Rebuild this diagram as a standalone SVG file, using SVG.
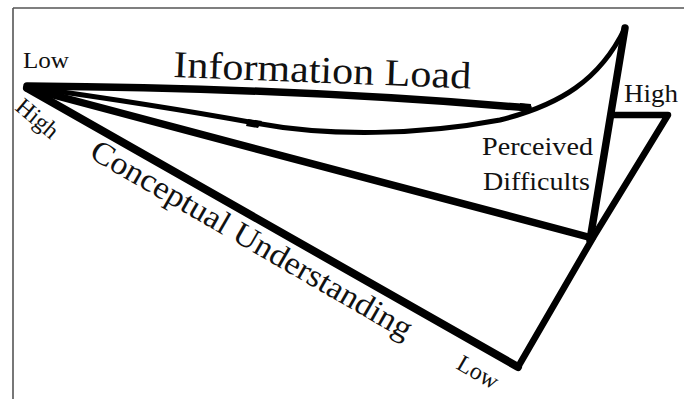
<svg xmlns="http://www.w3.org/2000/svg" width="684" height="399" viewBox="0 0 684 399">
  <style>
    .frame { fill: none; stroke: #555; stroke-width: 1.6; }
    .ink { fill: none; stroke: #000; stroke-linecap: round; stroke-linejoin: round; }
    .label { font-family: "Liberation Serif", "Times New Roman", serif; fill: #111; }
  </style>
  <rect width="684" height="399" fill="#fff"/>

  <!-- page frame (top and left edges only) -->
  <g id="frame">
    <line class="frame" x1="13" y1="8" x2="684" y2="8"/>
    <line class="frame" x1="13" y1="8" x2="13" y2="399" stroke-width="2"/>
  </g>

  <!-- hand-drawn strokes -->
  <g id="connectors">
    <!-- information load edge -->
    <path class="ink" d="M27,86 Q300,88 528,108" stroke-width="7.5"/>
    <path d="M520,103 L531,104 L530,112 L519,110 Z" fill="#000"/>
    <!-- curved edge rising to the peak -->
    <path class="ink" d="M27,87 Q150,104 255,123 C330,137 420,135 500,120 C560,105 600,80 625,28" stroke-width="5"/>
    <path d="M248,119 L262,121 L258,128 L246,126 Z" fill="#000"/>
    <!-- middle edge -->
    <path class="ink" d="M27,88 L592,238" stroke-width="7.5"/>
    <!-- conceptual understanding edge -->
    <path class="ink" d="M27,88 L518,367" stroke-width="8"/>
    <!-- perceived difficulty axis -->
    <path class="ink" d="M625,28 L590,240" stroke-width="7.5"/>
    <!-- outer right boundary -->
    <path class="ink" d="M612,115 L668,115 L594,236 L518,367" stroke-width="6.5"/>
  </g>

  <g id="label-low-top">
    <text class="label" x="23" y="68" font-size="24" textLength="46" lengthAdjust="spacingAndGlyphs">Low</text>
  </g>
  <g id="label-high-left">
    <text class="label" font-size="24" transform="translate(14,109) rotate(40)">High</text>
  </g>
  <g id="label-information-load">
    <text class="label" font-size="38" textLength="298" lengthAdjust="spacingAndGlyphs" transform="translate(173,77) rotate(2.2)">Information Load</text>
  </g>
  <g id="label-conceptual-understanding">
    <text class="label" font-size="32" textLength="366" lengthAdjust="spacingAndGlyphs" transform="translate(88,157) rotate(30)">Conceptual Understanding</text>
  </g>
  <g id="label-low-bottom">
    <text class="label" font-size="24" transform="translate(455,368) rotate(30)">Low</text>
  </g>
  <g id="label-high-right">
    <text class="label" x="624" y="102" font-size="25" textLength="54" lengthAdjust="spacingAndGlyphs">High</text>
  </g>
  <g id="label-perceived">
    <text class="label" x="482" y="155" font-size="25" textLength="111" lengthAdjust="spacingAndGlyphs">Perceived</text>
    <text class="label" x="483" y="190" font-size="25" textLength="107" lengthAdjust="spacingAndGlyphs">Difficults</text>
  </g>
</svg>
